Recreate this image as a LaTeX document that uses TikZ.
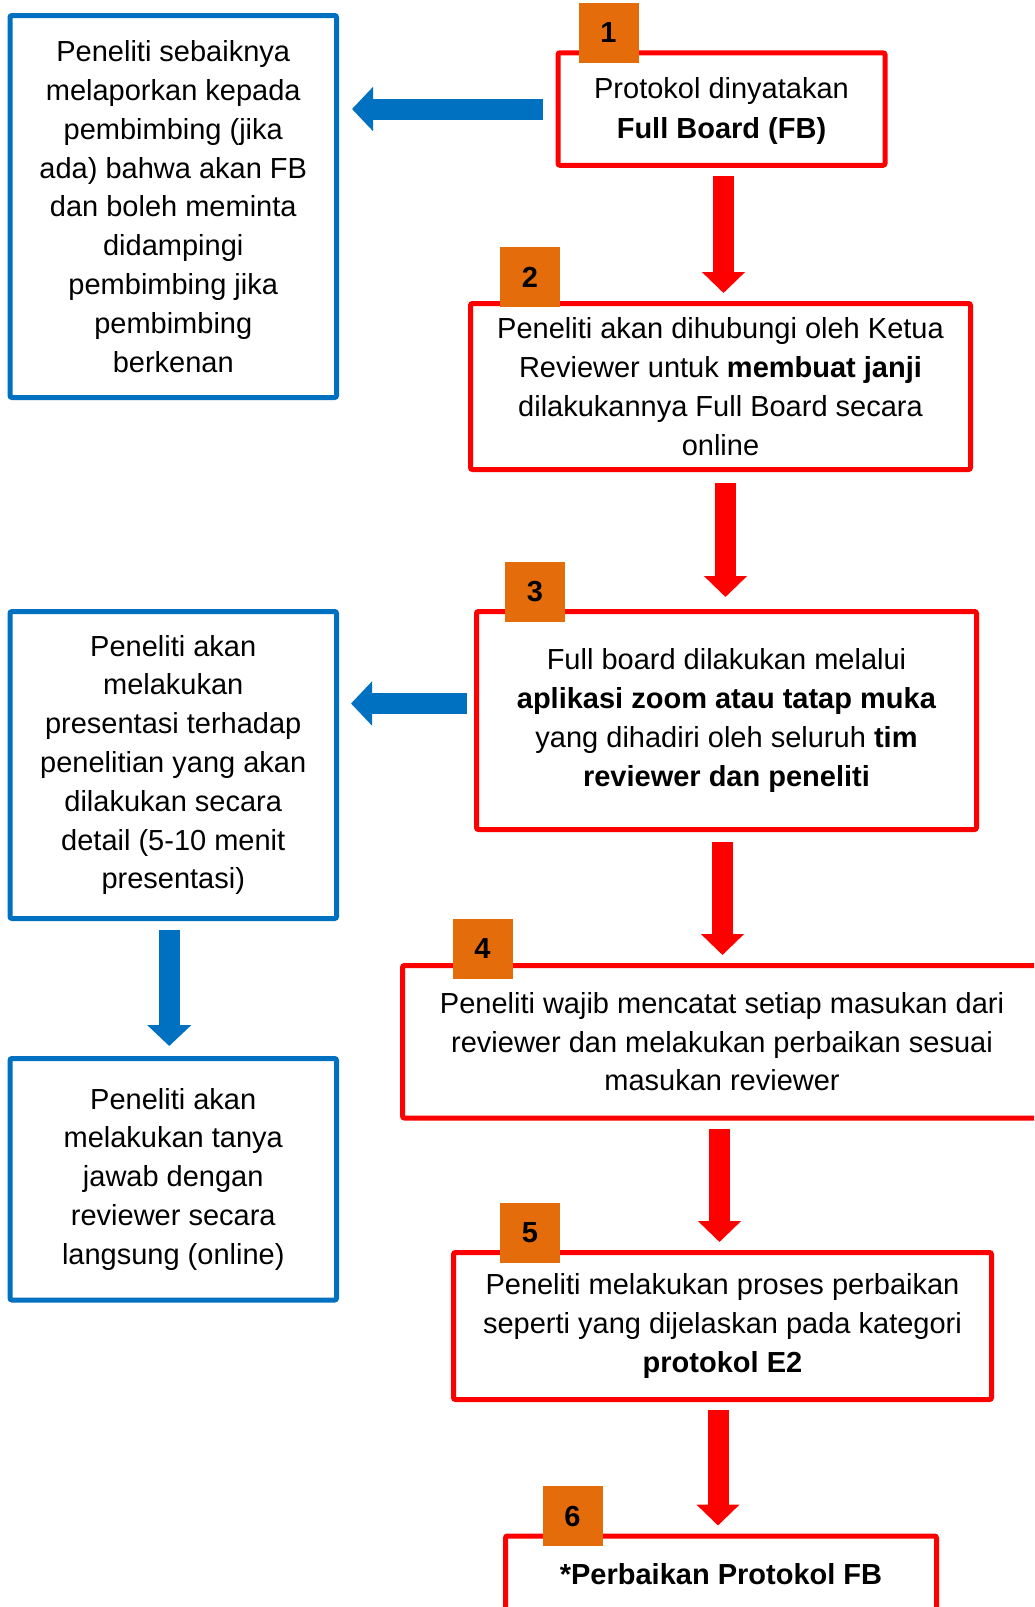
\documentclass[tikz,border=0pt]{standalone}
\usepackage{fontspec}
\setmainfont{Liberation Sans}
\usepackage{tikz}
\usetikzlibrary{arrows.meta}
\definecolor{flowred}{HTML}{FF0000}
\definecolor{flowblue}{HTML}{0070C0}
\definecolor{floworange}{HTML}{E46C0A}
\tikzstyle{redbox} = [draw=flowred, fill=white, line width=5pt,
    rectangle, rounded corners=2pt, inner sep=0pt, align=center,
    font=\fontsize{29}{38.8}\selectfont]
\tikzstyle{bluebox} = [draw=flowblue, fill=white, line width=5pt,
    rectangle, rounded corners=2pt, inner sep=0pt, align=center,
    font=\fontsize{29}{38.8}\selectfont]
\tikzstyle{numbox} = [fill=floworange, minimum width=60pt, minimum height=60pt,
    inner sep=0pt, font=\fontsize{29}{34}\selectfont\bfseries]
\tikzstyle{redarrow} = [draw=flowred, line width=21pt,
    -{Triangle[width=42pt,length=21pt]}, shorten <=8pt, shorten >=8pt]
\tikzstyle{bluearrow} = [draw=flowblue, line width=21pt,
    -{Triangle[width=43pt,length=21pt]}]

\begin{document}
\begin{tikzpicture}[x=1pt,y=-1pt]
                \path[use as bounding box, clip] (0,0) rectangle (1034,1607);
                \fill[white] (0,0) rectangle (1034,1607);
                \node[redbox, minimum width=327pt, minimum height=112.5pt, text depth=2pt,
                    font=\fontsize{29}{40}\selectfont] (box1) at (721.5,109)
                    {Protokol dinyatakan\\\textbf{Full Board (FB)}};
                \node[redbox, minimum width=500pt, minimum height=166pt] (box2) at (720.5,386.5)
                    {Peneliti akan dihubungi oleh Ketua\\Reviewer untuk \textbf{membuat janji}\\dilakukannya Full Board secara\\online};
                \node[redbox, minimum width=500pt, minimum height=218pt] (box3) at (726.5,720.5)
                    {Full board dilakukan melalui\\\textbf{aplikasi zoom atau tatap muka}\\yang dihadiri oleh seluruh \textbf{tim}\\\textbf{reviewer dan peneliti}};
                \node[redbox, minimum width=639pt, minimum height=152.5pt] (box4) at (722,1041.75)
                    {Peneliti wajib mencatat setiap masukan dari\\reviewer dan melakukan perbaikan sesuai\\masukan reviewer};
                \node[redbox, minimum width=538pt, minimum height=147pt] (box5) at (722.5,1326)
                    {Peneliti melakukan proses perbaikan\\seperti yang dijelaskan pada kategori\\\textbf{protokol E2}};
                \node[redbox, anchor=north, minimum width=431pt, text height=21pt, text depth=130pt,
                    inner ysep=27pt] (box6) at (721,1533.5) {\textbf{*Perbaikan Protokol FB}};
                \node[bluebox, minimum width=326.5pt, minimum height=382pt] (note1) at (173.25,206.5)
                    {Peneliti sebaiknya\\melaporkan kepada\\pembimbing (jika\\ada) bahwa akan FB\\dan boleh meminta\\didampingi\\pembimbing jika\\pembimbing\\berkenan};
                \node[bluebox, minimum width=326.5pt, minimum height=307pt] (note2) at (173.25,765)
                    {Peneliti akan\\melakukan\\presentasi terhadap\\penelitian yang akan\\dilakukan secara\\detail (5-10 menit\\presentasi)};
                \node[bluebox, minimum width=326.5pt, minimum height=241.5pt] (note3) at (173.25,1179.25)
                    {Peneliti akan\\melakukan tanya\\jawab dengan\\reviewer secara\\langsung (online)};
                \node[numbox] (num1) at (608.5,32.5) {1};
                \node[numbox] (num2) at (530,277) {2};
                \node[numbox] (num3) at (535,592) {3};
                \node[numbox] (num4) at (482.5,949) {4};
                \node[numbox] (num5) at (530,1232.5) {5};
                \node[numbox] (num6) at (572.5,1516) {6};
                \draw[redarrow] ([xshift=2pt]box1.south) -- ([xshift=2pt]box1.south |- box2.north);
                \draw[redarrow, shorten <=11pt, shorten >=12pt] ([xshift=5pt]box2.south) -- ([xshift=5pt]box2.south |- box3.north);
                \draw[redarrow, shorten <=10pt] ([xshift=-4pt]box3.south) -- ([xshift=-4pt]box3.south |- box4.north);
                \draw[redarrow] ([xshift=-2.5pt]box4.south) -- ([xshift=-2.5pt]box4.south |- box5.north);
                \draw[redarrow] ([xshift=-4.5pt]box5.south) -- ([xshift=-4.5pt]box5.south |- box6.north);
                \draw[bluearrow, shorten <=13pt, shorten >=13pt] (box1.west) -- (box1.west -| note1.east);
                \draw[bluearrow, shorten <=7pt, shorten >=12pt] ([yshift=17pt]box3.west) -- ([yshift=17pt]box3.west -| note2.east);
                \draw[bluearrow, shorten <=9pt, shorten >=10pt] ([xshift=-4pt]note2.south) -- ([xshift=-4pt]note3.north);
            \end{tikzpicture}
\end{document}
